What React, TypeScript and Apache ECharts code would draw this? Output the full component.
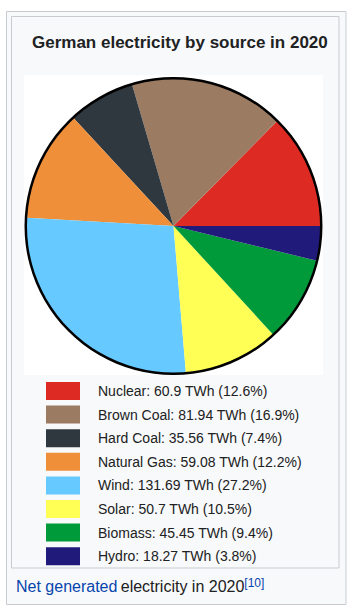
import React, { useEffect, useRef } from "react";
import * as echarts from "echarts";

const categories = ["Nuclear", "Brown Coal", "Hard Coal", "Natural Gas", "Wind", "Solar", "Biomass", "Hydro"];
const valuesTWh = [60.9, 81.94, 35.56, 59.08, 131.69, 50.7, 45.45, 18.27];
const percentLabels = ["12.6", "16.9", "7.4", "12.2", "27.2", "10.5", "9.4", "3.8"];
const sliceColors = ["#dd2a22", "#9c7b63", "#2f383f", "#f08f39", "#66c9ff", "#ffff55", "#009a3a", "#201a7a"];

const titleText = "German electricity by source in 2020";

export default function App() {
  const ref = useRef<HTMLDivElement>(null);
  useEffect(() => {
    if (!ref.current) return;
    const chart = echarts.init(ref.current, null, { renderer: "svg" });
    const font = "'Liberation Sans', Arial, sans-serif";
    const data = categories.map((c, i) => ({ name: c, value: valuesTWh[i], itemStyle: { color: sliceColors[i] } }));
    chart.setOption({
      animation: false,
      backgroundColor: "#ffffff",
      graphic: [
        { type: "rect", z: 0, shape: { x: 6.5, y: 11.5, width: 339.5, height: 593 }, style: { fill: "#f8f9fa", stroke: "#c8ccd1", lineWidth: 1 } },
        { type: "rect", z: 0, shape: { x: 11.5, y: 16.5, width: 327.5, height: 551.5 }, style: { fill: "#f8f9fa", stroke: "#c8ccd1", lineWidth: 1 } },
        { type: "rect", z: 0, shape: { x: 24, y: 75, width: 299, height: 300 }, style: { fill: "#ffffff" } },
        {
          type: "text",
          z: 5,
          x: 16,
          y: 577,
          style: {
            text: "{a|Net generated} {b|electricity in 2020}{c|[10]}",
            rich: {
              a: { fontFamily: font, fontSize: 16, fill: "#0645ad" },
              b: { fontFamily: font, fontSize: 16, fill: "#202122" },
              c: { fontFamily: font, fontSize: 12, fill: "#0645ad", verticalAlign: "top", padding: [0, 0, 7, 0] },
            },
          },
        },
      ],
      title: {
        text: titleText,
        left: 32,
        top: 34,
        padding: 0,
        textStyle: { fontFamily: font, fontSize: 17, fontWeight: "bold", color: "#202122" },
      },
      legend: {
        orient: "vertical",
        left: 46,
        top: 382,
        padding: 0,
        itemWidth: 34,
        itemHeight: 18,
        itemGap: 5.6,
        icon: "rect",
        selectedMode: false,
        data: categories,
        formatter: (name: string) => {
          const i = categories.indexOf(name);
          return `${name}: ${valuesTWh[i]} TWh (${percentLabels[i]}%)`;
        },
        textStyle: { fontFamily: font, fontSize: 14, color: "#202122", padding: [0, 0, 0, 13] },
      },
      series: [
        {
          type: "pie",
          center: [173.5, 226],
          radius: [0, 147.5],
          startAngle: 0,
          clockwise: false,
          silent: true,
          label: { show: false },
          labelLine: { show: false },
          itemStyle: { borderWidth: 0 },
          data,
        },
        {
          type: "pie",
          center: [173.5, 226],
          radius: [146.5, 149],
          silent: true,
          label: { show: false },
          labelLine: { show: false },
          legendHoverLink: false,
          itemStyle: { color: "#000000", borderWidth: 0 },
          data: [{ name: "outline", value: 1 }],
        },
      ],
    });
    return () => chart.dispose();
  }, []);
  return <div ref={ref} style={{ position: "fixed", left: 0, top: 0, width: 352, height: 610 }} />;
}
